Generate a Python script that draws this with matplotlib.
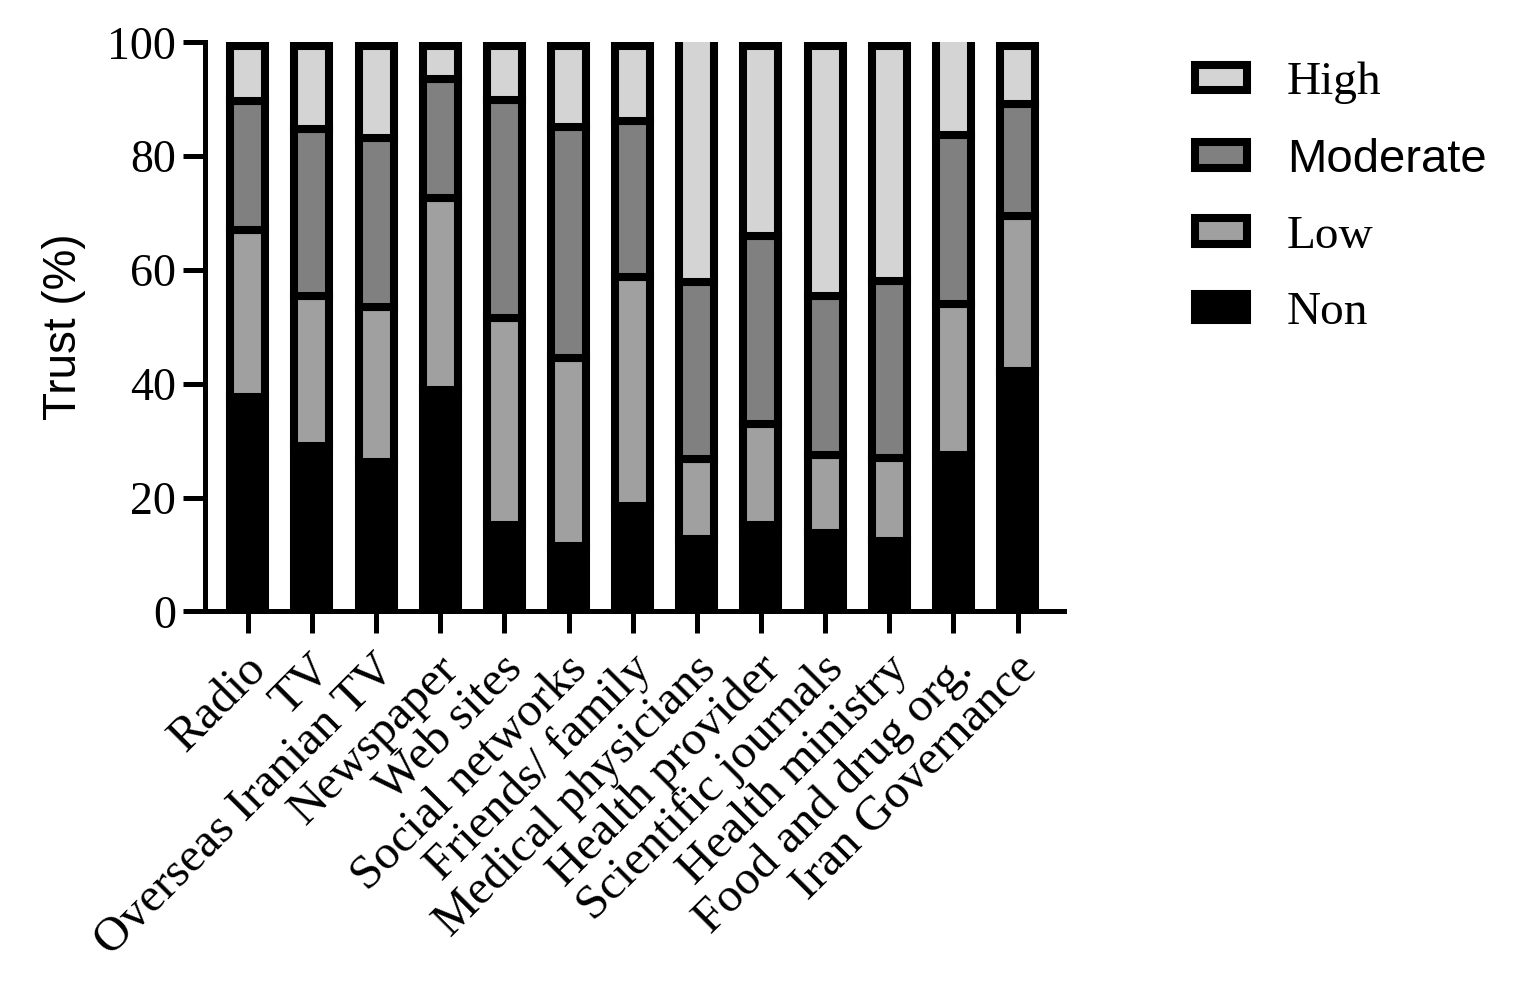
import numpy as np
import matplotlib
matplotlib.use('Agg')
import matplotlib.pyplot as plt
from matplotlib.transforms import ScaledTranslation

serif = 'Liberation Serif'
sans = 'Liberation Sans'

sources = ["Radio", "TV", "Overseas Iranian TV", "Newspaper", "Web sites",
           "Social networks", "Friends/ family", "Medical physicians",
           "Health provider", "Scientific journals", "Health ministry",
           "Food and drug org.", "Iran Governance"]

# trust levels (%) per source
non = [37.7, 29.1, 26.2, 38.9, 15.2, 11.5, 18.5, 12.7, 15.2, 13.8, 12.3, 27.4, 42.3]
low = [29.4, 26.3, 27.3, 33.8, 36.3, 33.1, 40.3, 14.0, 17.7, 13.6, 14.7, 26.6, 27.1]
moderate = [22.5, 29.4, 29.7, 20.8, 38.3, 40.6, 27.4, 31.2, 33.1, 28.0, 31.0, 29.7, 19.8]
high = [9.7, 14.5, 16.1, 5.8, 9.5, 14.1, 13.1, 43.6, 33.3, 43.9, 41.3, 17.8, 10.1]

levels = ["Non", "Low", "Moderate", "High"]
colors = ["#000000", "#a0a0a0", "#808080", "#d4d4d4"]

fig = plt.figure(figsize=(15.24, 9.83), dpi=100)
ax = fig.add_axes([0.1348, 0.378, 0.5632, 0.579])

x = np.arange(len(sources))
bottom = np.zeros(len(sources))
handles = []
for name, vals, col in zip(levels, [non, low, moderate, high], colors):
    vals = np.array(vals)
    b = ax.bar(x, vals, bottom=bottom, width=0.545, color=col,
               edgecolor='black', linewidth=5.8, label=name, zorder=2)
    handles.append(b)
    bottom += vals

ax.set_xlim(-0.66, 12.72)
ax.set_ylim(0, 100)
ax.set_yticks([0, 20, 40, 60, 80, 100])

for side in ['top', 'right']:
    ax.spines[side].set_visible(False)
for side in ['left', 'bottom']:
    ax.spines[side].set_linewidth(3.6)
    ax.spines[side].set_zorder(3)

ax.tick_params(axis='both', direction='out', length=16, width=3.6)
ax.tick_params(axis='y', pad=5)
ax.tick_params(axis='x', pad=12)
ax.set_xticks(x)
ax.set_xticklabels(sources, rotation=45, ha='right', va='center',
                   rotation_mode='anchor', fontsize=35, family=serif)
for lab in ax.get_yticklabels():
    lab.set_fontsize(33)
    lab.set_family(serif)

# nudge the rotated labels down/right like the original
shift = ScaledTranslation(0.12, -0.12, fig.dpi_scale_trans)
for lab in ax.get_xticklabels():
    lab.set_transform(lab.get_transform() + shift)

ax.set_ylabel("Trust (%)", fontsize=33, family=sans)
ax.yaxis.set_label_coords(-0.139, 0.5)

leg = ax.legend(handles=handles[::-1], labels=levels[::-1], loc='upper left',
                bbox_to_anchor=(0.784, 0.937), bbox_transform=fig.transFigure,
                frameon=False, fontsize=34, borderpad=0, borderaxespad=0,
                handlelength=1.1, handleheight=0.45, handletextpad=0.85,
                labelspacing=0.71)
for t in leg.get_texts():
    t.set_family(sans if t.get_text() == "Moderate" else serif)

fig.savefig("out.png", dpi=100)
